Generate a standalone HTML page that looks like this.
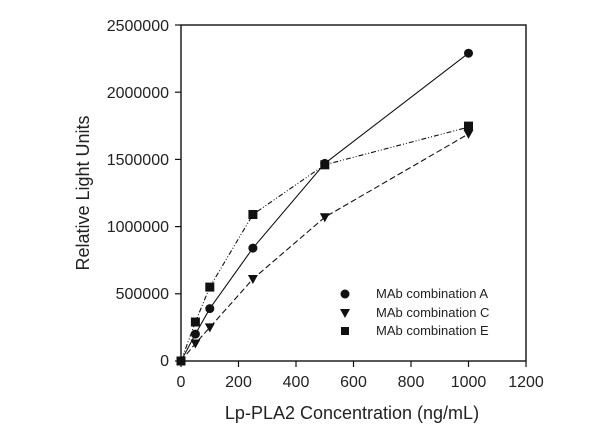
<!DOCTYPE html>
<html><head><style>body{margin:0;background:#fff}svg{display:block}text{font-family:"Liberation Sans",sans-serif;fill:#222}</style></head>
<body>
<svg width="600" height="437" viewBox="0 0 600 437">
<rect x="181" y="25" width="345" height="336" fill="none" stroke="#111" stroke-width="1.4"/>
<g stroke="#111" stroke-width="1.2">
<line x1="181" y1="361" x2="181" y2="367"/><line x1="238.5" y1="361" x2="238.5" y2="367"/><line x1="296" y1="361" x2="296" y2="367"/><line x1="353.5" y1="361" x2="353.5" y2="367"/><line x1="411" y1="361" x2="411" y2="367"/><line x1="468.5" y1="361" x2="468.5" y2="367"/><line x1="526" y1="361" x2="526" y2="367"/>
<line x1="175" y1="361" x2="181" y2="361"/><line x1="175" y1="293.8" x2="181" y2="293.8"/><line x1="175" y1="226.6" x2="181" y2="226.6"/><line x1="175" y1="159.4" x2="181" y2="159.4"/><line x1="175" y1="92.2" x2="181" y2="92.2"/><line x1="175" y1="25" x2="181" y2="25"/>
</g>
<g font-size="16" text-anchor="middle">
<text x="181" y="387">0</text><text x="238.5" y="387">200</text><text x="296" y="387">400</text><text x="353.5" y="387">600</text><text x="411" y="387">800</text><text x="468.5" y="387">1000</text><text x="526" y="387">1200</text>
</g>
<g font-size="16" text-anchor="end">
<text x="169" y="366">0</text><text x="169" y="299">500000</text><text x="169" y="232">1000000</text><text x="169" y="165">1500000</text><text x="169" y="98">2000000</text><text x="169" y="31">2500000</text>
</g>
<text x="352" y="419" font-size="18" text-anchor="middle">Lp-PLA2 Concentration (ng/mL)</text>
<text transform="translate(89,193) rotate(-90)" font-size="18" text-anchor="middle">Relative Light Units</text>
<g fill="none" stroke="#111" stroke-width="1.1">
<polyline points="181,361 195.4,334.1 209.8,308.6 252.9,248.1 324.8,163.4 468.5,53.2"/>
<polyline points="181,361 195.4,343.5 209.8,327.4 252.9,279 324.8,217.2 468.5,133.9" stroke-dasharray="6,3"/>
<polyline points="181,361 195.4,322 209.8,287.1 252.9,214.5 324.8,164.8 468.5,127.1" stroke-dasharray="5,2,1,2,1,2"/>
</g>
<g fill="#111">
<circle cx="195.4" cy="334.1" r="4.5"/><circle cx="209.8" cy="308.6" r="4.5"/><circle cx="252.9" cy="248.1" r="4.5"/><circle cx="324.8" cy="163.4" r="4.5"/><circle cx="468.5" cy="53.2" r="4.5"/>
<path d="M190.4,339.5h10l-5,9z M204.8,323.4h10l-5,9z M247.9,275h10l-5,9z M319.8,213.2h10l-5,9z M463.5,129.9h10l-5,9z"/>
<rect x="176.5" y="356.5" width="9" height="9"/>
<rect x="190.9" y="317.5" width="9" height="9"/><rect x="205.3" y="282.6" width="9" height="9"/><rect x="248.4" y="210" width="9" height="9"/><rect x="320.3" y="160.3" width="9" height="9"/><rect x="464" y="121.6" width="9" height="9"/>
<circle cx="345" cy="294" r="4.5"/>
<path d="M340,309h10l-5,9z"/>
<rect x="341" y="327" width="8" height="8"/>
</g>
<g font-size="13">
<text x="376" y="298">MAb combination A</text>
<text x="376" y="317">MAb combination C</text>
<text x="376" y="335">MAb combination E</text>
</g>
</svg>
</body></html>
